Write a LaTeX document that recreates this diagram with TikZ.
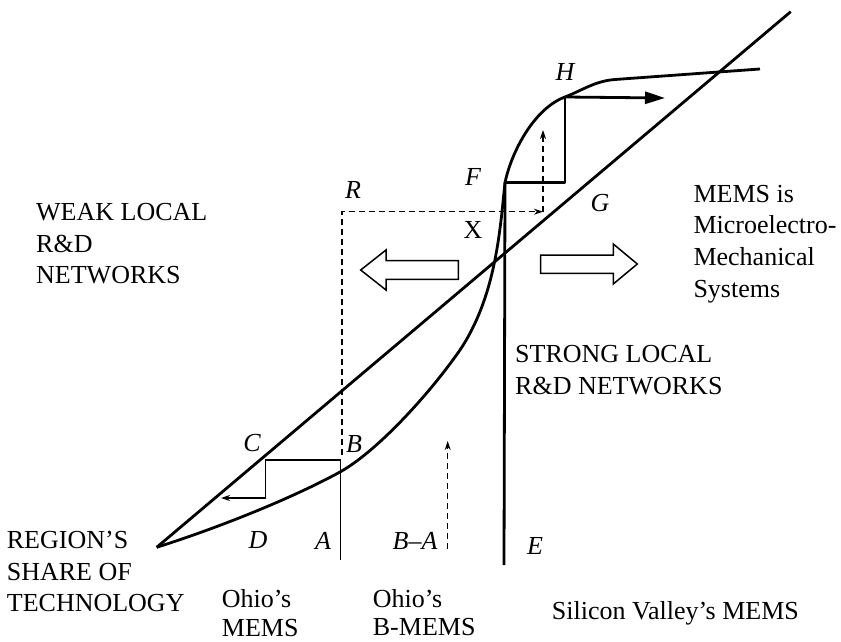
\documentclass[tikz,border=0pt]{standalone}
\usepackage{fontspec}
\setmainfont{Liberation Serif}
\usetikzlibrary{arrows.meta}
\tikzstyle{curve} = [line width=2.8pt,
	line join=round
	]
\tikzstyle{stepline} = [line width=1.5pt]
\tikzstyle{guide} = [line width=1.4pt,
	dash pattern=on 6pt off 4pt
	]
\tikzstyle{hollow} = [line width=1.5pt,
	fill=white
	]
\tikzstyle{letter} = [font=\fontsize{26}{31.5}\selectfont\itshape,
	inner sep=0pt
	]
\tikzstyle{caption} = [font=\fontsize{26}{31.7}\selectfont,
	align=left,
	anchor=north west,
	inner sep=0pt
	]
\tikzstyle{tip} = [-{Stealth[length=9pt,width=6pt]}]

\begin{document}
\begin{tikzpicture}[x=1pt, y=-1pt]
\useasboundingbox (0,0) rectangle (841,642);

\coordinate (apex) at (156.7,547.3);
\coordinate (top) at (790.7,11.7);
\coordinate (F) at (505,182.5);
\coordinate (G) at (565,182.5);
\coordinate (H) at (565,97);
\coordinate (Hto) at (665,98);
\coordinate (Ebot) at (504,565);
\coordinate (Btop) at (340.7,460);
\coordinate (Abot) at (340.7,560);
\coordinate (Cup) at (265.5,460);
\coordinate (Cdown) at (265.5,498);
\coordinate (Cto) at (221,498);
\coordinate (R) at (342,211.7);
\coordinate (Rbot) at (342,455);
\coordinate (X) at (543,211.7);
\coordinate (Xto) at (543,130);
\coordinate (BAbot) at (447.7,549);
\coordinate (BAtop) at (447.7,441);
\coordinate (Bcut) at (340,472);
\coordinate (bend) at (460,350);
\coordinate (flat) at (615,79.5);
\coordinate (tail) at (760,69);

% diagonal and S curve
\draw [curve] (apex) -- (top);
\draw [curve] (apex) .. controls (230,524) and (300,494) .. (Bcut)
	.. controls (376,452) and (428,396) .. (bend)
	.. controls (496,296) and (500,230) .. (F)
	.. controls (512,150) and (535,108) .. (H)
	.. controls (583,90) and (595,81) .. (flat) -- (tail);
\draw [curve] (F) -- (Ebot);

% moves
\draw [curve] (F) -- (G) -- (H);
\draw [curve, -{Triangle[length=20pt,width=12pt]}] (H) -- (Hto);
\draw [stepline, tip] (Abot) -- (Btop) -- (Cup) -- (Cdown) -- (Cto);
\draw [guide, tip] (Rbot) -- (R) -- (X);
\draw [guide, tip] (X) -- (Xto);
\draw [guide, tip] (BAbot) -- (BAtop);

\draw [hollow] (360.7,270) -- (386,250) -- (386,260.7) -- (458.3,260.7) -- (458.3,279.3) -- (386,279.3) -- (386,290) -- cycle;
\draw [hollow] (637.3,264) -- (613.3,244) -- (613.3,255) -- (540.7,255) -- (540.7,273.3) -- (613.3,273.3) -- (613.3,284) -- cycle;

\node (lH) [letter] at (565,71.7) {H};
\node (lF) [letter] at (473,177) {F};
\node (lR) [letter] at (353,190) {R};
\node (lG) [letter] at (600,203) {G};
\node (lX) [letter, font=\fontsize{26}{31.5}\selectfont] at (473,230) {X};
\node (lC) [letter] at (252,443) {C};
\node (lB) [letter] at (354,444) {B};
\node (lD) [letter] at (258,540) {D};
\node (lA) [letter] at (323,541) {A};
\node (lBA) [letter] at (415,541) {B--A};
\node (lE) [letter] at (535,546) {E};

\node (weak) [caption] at (36,203.1) {WEAK LOCAL\\R\&D\\NETWORKS};
\node (strong) [caption, font=\fontsize{26}{32}\selectfont] at (515,344.7) {STRONG LOCAL\\R\&D NETWORKS};
\node (mems) [caption] at (693.3,184.7) {MEMS is\\Microelectro-\\Mechanical\\Systems};
\node (share) [caption, font=\fontsize{26}{31.3}\selectfont] at (6.7,531.4) {REGION’S\\SHARE OF\\TECHNOLOGY};
\node (ohio) [caption, font=\fontsize{26}{28.6}\selectfont] at (221.7,589.4) {Ohio’s\\MEMS};
\node (ohioB) [caption, font=\fontsize{26}{28.6}\selectfont] at (372.7,589) {Ohio’s\\B-MEMS};
\node (valley) [caption] at (551.7,601.4) {Silicon Valley’s MEMS};

\end{tikzpicture}
\end{document}
